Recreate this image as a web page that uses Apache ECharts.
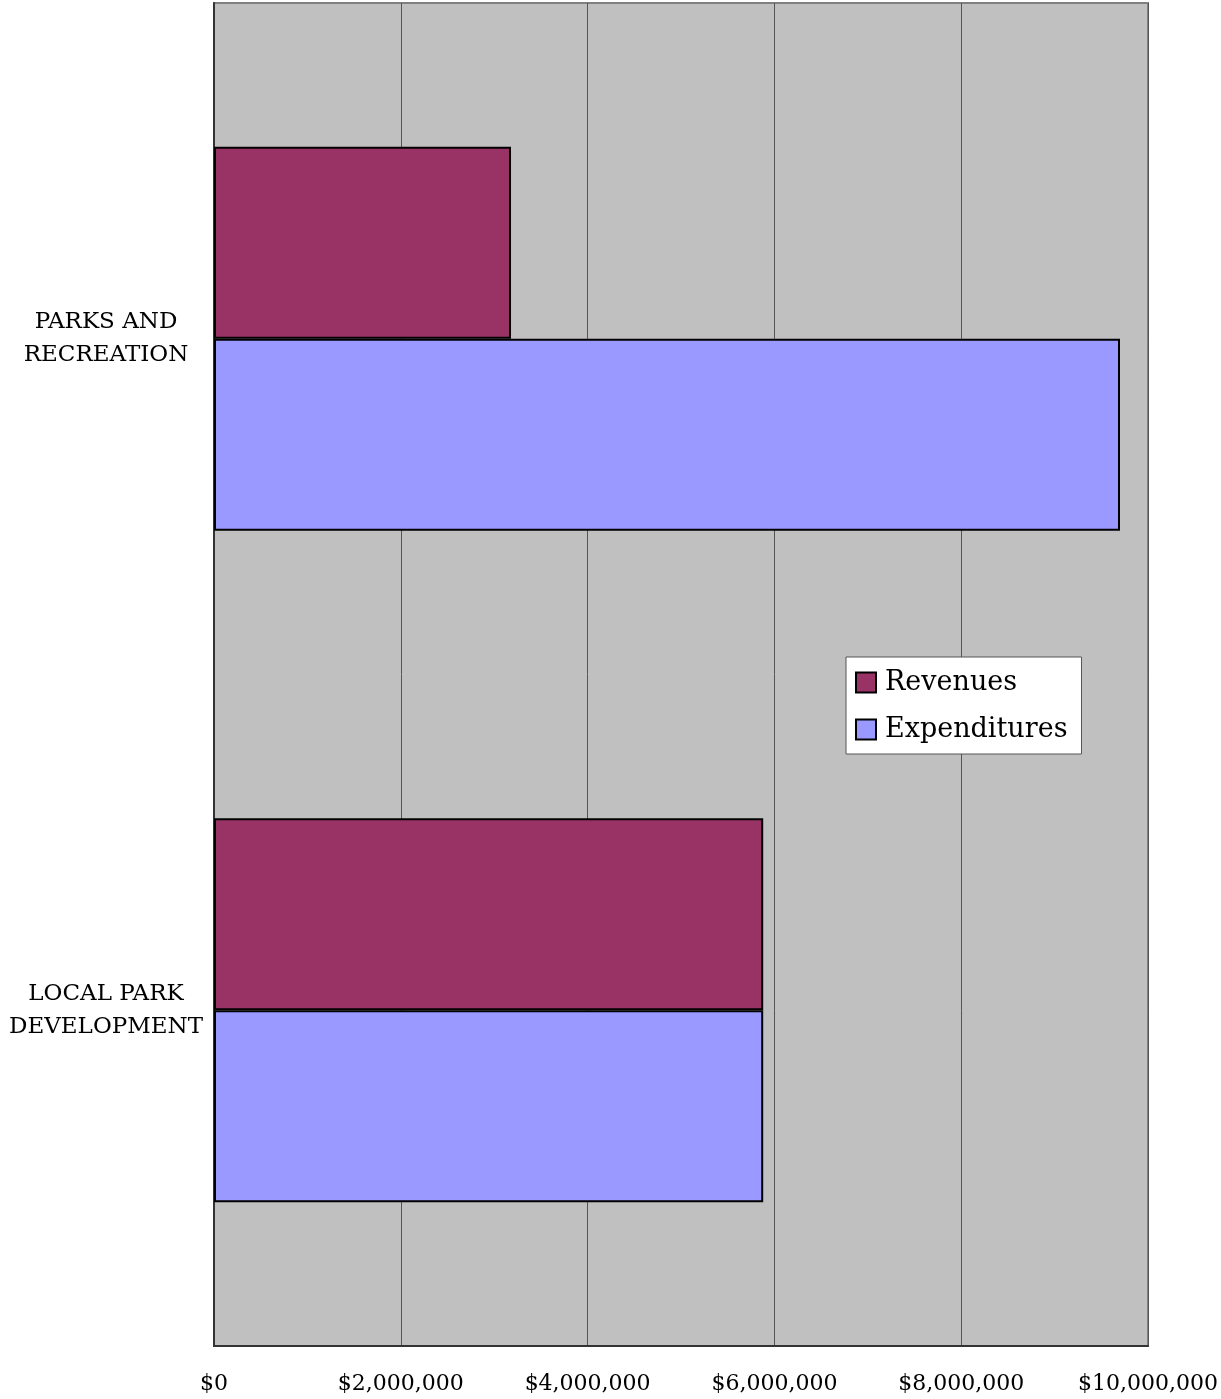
<!DOCTYPE html>
<html>
<head>
<meta charset="utf-8">
<script src="https://cdn.jsdelivr.net/npm/echarts@6/dist/echarts.min.js"></script>
<style>html,body{margin:0;padding:0;background:#fff}#c{width:1221px;height:1399px}</style>
</head>
<body>
<div id="c"></div>
<script>
var categories = ['PARKS AND\nRECREATION', 'LOCAL PARK\nDEVELOPMENT'];
var revenues = [3180000, 5880000];
var expenditures = [9700000, 5880000];
var seriesNames = ['Revenues', 'Expenditures'];

var font = 'DejaVu Serif';
function fmt(v){ return '$' + v.toString().replace(/\B(?=(\d{3})+(?!\d))/g, ','); }
var chart = echarts.init(document.getElementById('c'), null, {renderer:'canvas'});
chart.setOption({
  animation: false,
  backgroundColor: '#ffffff',
  grid: {left: 214, top: 3, right: 68, bottom: 53, show: true, backgroundColor: '#c0c0c0', borderColor: '#808080', borderWidth: 2},
  legend: {
    data: seriesNames,
    orient: 'vertical',
    left: 846, top: 657,
    padding: [12, 14, 11, 9],
    backgroundColor: '#ffffff',
    borderColor: '#555555', borderWidth: 1,
    itemWidth: 20, itemHeight: 20, itemGap: 20,
    icon: 'rect',
    itemStyle: {borderColor: '#000', borderWidth: 2},
    textStyle: {fontFamily: font, fontSize: 27, color: '#000', padding: [0,0,0,4]}
  },
  xAxis: {
    type: 'value', min: 0, max: 10000000, interval: 2000000,
    axisLine: {show: true, lineStyle: {color: '#333', width: 2}},
    axisTick: {show: false},
    splitLine: {show: true, lineStyle: {color: '#555', width: 1}},
    axisLabel: {fontFamily: font, fontSize: 22, color: '#000', margin: 27, formatter: fmt}
  },
  yAxis: {
    type: 'category', data: categories, inverse: true,
    axisLine: {show: true, lineStyle: {color: '#333', width: 2}},
    axisTick: {show: false},
    axisLabel: {fontFamily: font, fontSize: 23, color: '#000', margin: 108, align: 'center', lineHeight: 33}
  },
  series: [
    {name: seriesNames[0], type: 'bar', data: revenues, barGap: '0%', barCategoryGap: '42.8%',
     itemStyle: {color: '#993366', borderColor: '#000', borderWidth: 2}},
    {name: seriesNames[1], type: 'bar', data: expenditures, barGap: '0%', barCategoryGap: '42.8%',
     itemStyle: {color: '#9999ff', borderColor: '#000', borderWidth: 2}}
  ]
});
</script>
</body>
</html>
